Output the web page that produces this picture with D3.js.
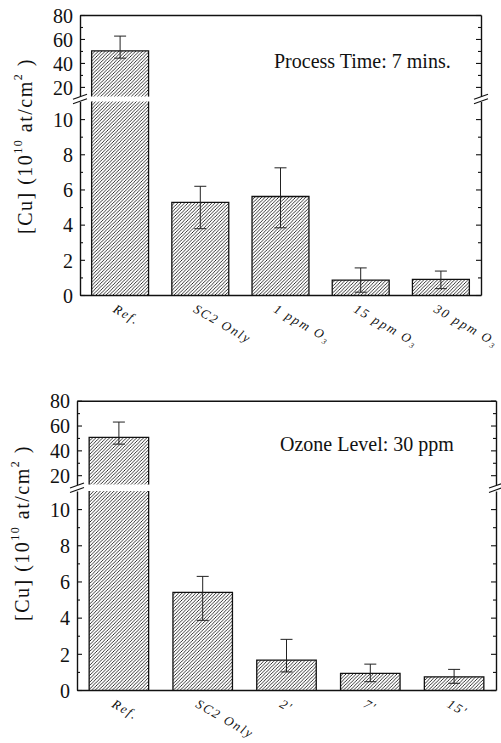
<!DOCTYPE html>
<html>
<head>
<meta charset="utf-8">
<script src="https://cdnjs.cloudflare.com/ajax/libs/d3/7.8.5/d3.min.js"></script>
<style>
body { margin: 0; background: #fff; }
</style>
</head>
<body>
<div id="d3"></div>
<script>
'use strict';

// top panel: process time 7 mins
var timeCategories = ['Ref.', 'SC2 Only', '1 ppm O₃', '15 ppm O₃', '30 ppm O₃'];
var timeValues = [50, 5.27, 5.6, 0.85, 0.89];
var timeErrHigh = [62.4, 6.18, 7.23, 1.54, 1.36];
var timeErrLow = [44, 3.77, 3.82, 0.16, 0.36];

// bottom panel: ozone level 30 ppm
var ozoneCategories = ['Ref.', 'SC2 Only', '2\'', '7\'', '15\''];
var ozoneValues = [50.5, 5.4, 1.65, 0.92, 0.73];
var ozoneErrHigh = [62.8, 6.28, 2.8, 1.43, 1.14];
var ozoneErrLow = [45, 3.85, 1.0, 0.46, 0.37];

// y ticks, the axis is broken between 11 and ~12
var upperTicks = [20, 40, 60, 80];
var upperMinor = [30, 50, 70];
var lowerTicks = [0, 2, 4, 6, 8, 10];
var lowerMinor = [1, 3, 5, 7, 9];

var SERIF = '"Liberation Serif", "Times New Roman", serif';
var HATCH = 3.4;

var svg = d3.select('#d3')
    .append('svg')
    .attr('width', 501)
    .attr('height', 743);

// hatch fill for the bars
svg.append('defs').append('pattern')
    .attr('id', 'hatch')
    .attr('patternUnits', 'userSpaceOnUse')
    .attr('width', HATCH)
    .attr('height', HATCH)
    .append('path')
    .attr('d', 'M-1,1 L1,-1 M0,' + HATCH + ' L' + HATCH + ',0 M' + (HATCH - 1) + ',' + (HATCH + 1) + ' L' + (HATCH + 1) + ',' + (HATCH - 1))
    .attr('stroke', '#111')
    .attr('stroke-width', 0.85);

drawPanel({
    categories: timeCategories, values: timeValues, hi: timeErrHigh, lo: timeErrLow,
    left: 80, right: 481, top: 15, bottom: 295,
    lowMax: 11, breakLow: 101.5, highMin: 12, breakHigh: 96.5,
    note: 'Process Time: 7 mins.', noteX: 274, noteY: 68,
    labelX: 27, labelY: 146
});

drawPanel({
    categories: ozoneCategories, values: ozoneValues, hi: ozoneErrHigh, lo: ozoneErrLow,
    left: 77, right: 496, top: 400.7, bottom: 690,
    lowMax: 11, breakLow: 491, highMin: 12.5, breakHigh: 484.5,
    note: 'Ozone Level: 30 ppm', noteX: 280, noteY: 451,
    labelX: 24, labelY: 533
});

function drawPanel(cfg) {
    var g = svg.append('g');

    var x = d3.scaleBand()
        .domain(cfg.categories)
        .range([cfg.left, cfg.right])
        .paddingInner(0.29)
        .paddingOuter(0.145);
    var yLow = d3.scaleLinear().domain([0, cfg.lowMax]).range([cfg.bottom, cfg.breakLow]);
    var yHigh = d3.scaleLinear().domain([cfg.highMin, 80]).range([cfg.breakHigh, cfg.top]);

    function yOf(v) {
        return v <= cfg.lowMax ? yLow(v) : yHigh(v);
    }

    var data = cfg.categories.map(function(c, i) {
        return { cat: c, v: cfg.values[i], hi: cfg.hi[i], lo: cfg.lo[i] };
    });

    // bars, split in two pieces when they cross the break
    data.forEach(function(d) {
        var x0 = x(d.cat), x1 = x0 + x.bandwidth();
        var segs = [];
        segs.push({ y0: yLow(Math.min(d.v, cfg.lowMax)), y1: cfg.bottom, top: d.v <= cfg.lowMax });
        if (d.v > cfg.highMin) {
            segs.push({ y0: yHigh(d.v), y1: cfg.breakHigh, top: true });
        }
        segs.forEach(function(s) {
            g.append('rect')
                .attr('x', x0)
                .attr('y', s.y0)
                .attr('width', x1 - x0)
                .attr('height', s.y1 - s.y0)
                .attr('fill', 'url(#hatch)');
            var p = d3.path();
            p.moveTo(x0, s.y1);
            p.lineTo(x0, s.y0);
            if (s.top) p.lineTo(x1, s.y0); else p.moveTo(x1, s.y0);
            p.lineTo(x1, s.y1);
            g.append('path')
                .attr('d', p.toString())
                .attr('fill', 'none')
                .attr('stroke', '#111')
                .attr('stroke-width', 1.3);
        });
    });

    // error bars
    var eb = g.selectAll('.err')
        .data(data)
        .enter().append('g')
        .attr('class', 'err')
        .attr('stroke', '#222')
        .attr('stroke-width', 1);
    eb.append('line')
        .attr('x1', function(d) { return x(d.cat) + x.bandwidth() / 2; })
        .attr('x2', function(d) { return x(d.cat) + x.bandwidth() / 2; })
        .attr('y1', function(d) { return yOf(d.hi); })
        .attr('y2', function(d) { return yOf(d.lo); });
    eb.append('line')
        .attr('x1', function(d) { return x(d.cat) + x.bandwidth() / 2 - 6; })
        .attr('x2', function(d) { return x(d.cat) + x.bandwidth() / 2 + 6; })
        .attr('y1', function(d) { return yOf(d.hi); })
        .attr('y2', function(d) { return yOf(d.hi); });
    eb.append('line')
        .attr('x1', function(d) { return x(d.cat) + x.bandwidth() / 2 - 6; })
        .attr('x2', function(d) { return x(d.cat) + x.bandwidth() / 2 + 6; })
        .attr('y1', function(d) { return yOf(d.lo); })
        .attr('y2', function(d) { return yOf(d.lo); });

    // axes: left with labels, right mirrored without
    [[yHigh, upperTicks, upperMinor], [yLow, lowerTicks, lowerMinor]].forEach(function(a) {
        g.append('g')
            .attr('transform', 'translate(' + cfg.left + ',0)')
            .call(d3.axisLeft(a[0]).tickValues(a[1]).tickSizeInner(-5).tickSizeOuter(0).tickPadding(7))
            .call(styleAxis)
            .selectAll('text')
            .attr('font-size', 20)
            .attr('dy', '0.36em');
        g.append('g')
            .attr('transform', 'translate(' + cfg.left + ',0)')
            .call(d3.axisLeft(a[0]).tickValues(a[2]).tickSize(-3).tickFormat(''))
            .call(styleAxis)
            .call(function(s) { s.select('.domain').remove(); });
        g.append('g')
            .attr('transform', 'translate(' + cfg.right + ',0)')
            .call(d3.axisRight(a[0]).tickValues(a[1]).tickSizeInner(-5).tickSizeOuter(0).tickFormat(''))
            .call(styleAxis);
        g.append('g')
            .attr('transform', 'translate(' + cfg.right + ',0)')
            .call(d3.axisRight(a[0]).tickValues(a[2]).tickSize(-3).tickFormat(''))
            .call(styleAxis)
            .call(function(s) { s.select('.domain').remove(); });
    });

    // top frame line
    g.append('g')
        .attr('transform', 'translate(0,' + cfg.top + ')')
        .call(d3.axisTop(x).tickSize(0).tickSizeOuter(0).tickFormat(''))
        .call(styleAxis);

    // bottom axis with slanted labels
    var xa = g.append('g')
        .attr('transform', 'translate(0,' + cfg.bottom + ')')
        .call(d3.axisBottom(x).tickSize(0).tickSizeOuter(0))
        .call(styleAxis);
    xa.selectAll('text')
        .attr('y', 0)
        .attr('dy', '0.75em')
        .attr('text-anchor', 'start')
        .attr('font-size', 13)
        .attr('font-style', 'italic')
        .attr('letter-spacing', 1.8)
        .attr('transform', 'translate(-3,8) rotate(30)');

    // break marks on both sides
    [cfg.left, cfg.right].forEach(function(ax) {
        var mid = (cfg.breakLow + cfg.breakHigh) / 2;
        g.append('polygon')
            .attr('points', [[ax - 7, mid + 4.5], [ax + 7, mid - 0.5], [ax + 7, mid - 4.5], [ax - 7, mid + 0.5]].join(' '))
            .attr('fill', '#fff');
        [-2.2, 2.2].forEach(function(o) {
            g.append('line')
                .attr('x1', ax - 7).attr('y1', mid + 2.5 + o)
                .attr('x2', ax + 7).attr('y2', mid - 2.5 + o)
                .attr('stroke', '#111')
                .attr('stroke-width', 1.2);
        });
    });

    // y axis title
    var t = g.append('text')
        .attr('transform', 'translate(' + cfg.labelX + ',' + cfg.labelY + ') rotate(-90)')
        .attr('text-anchor', 'middle')
        .attr('dominant-baseline', 'middle')
        .style('font-family', SERIF)
        .style('font-size', '20px')
        .attr('letter-spacing', 1.5)
        .attr('fill', '#111');
    t.append('tspan').text('[Cu] (10');
    t.append('tspan').attr('dy', -8).style('font-size', '12px').text('10');
    t.append('tspan').attr('dy', 8).text(' at/cm');
    t.append('tspan').attr('dy', -8).style('font-size', '12px').text('2');
    t.append('tspan').attr('dy', 8).text(' )');

    // panel note
    g.append('text')
        .attr('x', cfg.noteX)
        .attr('y', cfg.noteY)
        .style('font-family', SERIF)
        .style('font-size', '20px')
        .attr('fill', '#111')
        .text(cfg.note);
}

function styleAxis(s) {
    s.attr('font-family', SERIF).attr('fill', null);
    s.selectAll('.domain').attr('stroke', '#111').attr('stroke-width', 1.4);
    s.selectAll('.tick line').attr('stroke', '#111').attr('stroke-width', 1.1);
    s.selectAll('text').attr('fill', '#111');
}
</script>
</body>
</html>
